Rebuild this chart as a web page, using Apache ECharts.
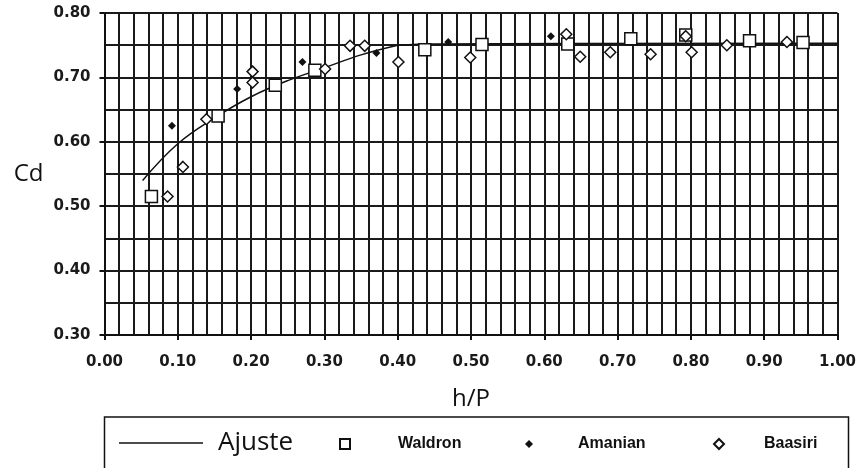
<!DOCTYPE html>
<html>
<head>
<meta charset="utf-8">
<script src="https://cdn.jsdelivr.net/npm/echarts@6.0.0/dist/echarts.min.js"></script>
<style>
  html, body { margin: 0; padding: 0; background: #fff; }
  #chart { width: 860px; height: 468px; }
</style>
</head>
<body>
<div id="chart"></div>
<script>
// h/P vs Cd
const ajusteCurve = [
  [0.052, 0.540], [0.10, 0.597], [0.15, 0.637], [0.20, 0.670],
  [0.25, 0.695], [0.30, 0.715], [0.35, 0.735], [0.40, 0.750]
]
const ajusteFlat = [[0.40, 0.750], [0.45, 0.752], [1.00, 0.753]]
const waldron = [
  [0.064, 0.515], [0.155, 0.640], [0.233, 0.688], [0.287, 0.711], [0.437, 0.743],
  [0.515, 0.751], [0.632, 0.752], [0.718, 0.760], [0.793, 0.766], [0.880, 0.757], [0.953, 0.754]
]
const amanian = [
  [0.092, 0.625], [0.181, 0.682], [0.270, 0.724], [0.371, 0.738], [0.469, 0.755], [0.609, 0.764]
]
const baasiri = [
  [0.086, 0.515], [0.107, 0.561], [0.139, 0.635], [0.202, 0.709], [0.202, 0.692],
  [0.301, 0.713], [0.335, 0.749], [0.355, 0.749], [0.401, 0.724], [0.499, 0.731],
  [0.630, 0.767], [0.649, 0.732], [0.690, 0.739], [0.745, 0.736], [0.793, 0.764],
  [0.801, 0.739], [0.849, 0.750], [0.931, 0.755]
]
const xTicks = [0.0, 0.1, 0.2, 0.3, 0.4, 0.5, 0.6, 0.7, 0.8, 0.9, 1.0]
const yTicks = [0.30, 0.40, 0.50, 0.60, 0.70, 0.80]

const gridLine = { color: '#1a1a1a', width: 2 }
const tickFont = { color: '#1a1a1a', fontFamily: 'DejaVu Sans', fontWeight: 'bold', fontSize: 15 }
const titleFont = { color: '#111', fontFamily: 'Open Sans', fontSize: 24 }
const legendFont = { color: '#111', fontFamily: 'Liberation Sans', fontWeight: 'bold', fontSize: 16 }

const chart = echarts.init(document.getElementById('chart'), null, { renderer: 'canvas' })

const legendAt = (name, left, top, w, h, pad, font, extra) => ({
  data: [name],
  left, top, padding: 0,
  itemWidth: w, itemHeight: h,
  textStyle: { ...font, padding: [0, 0, 0, pad] },
  selectedMode: false,
  ...extra,
})

const xMin = xTicks[0]
const xMax = xTicks[xTicks.length - 1]
// only label the 0.1 steps; the 0.02 steps are just grid
const isMajor = v => Math.abs(v * 10 - Math.round(v * 10)) < 1e-6

chart.setOption({
  animation: false,
  grid: { left: 104.5, right: 22.5, top: 13, bottom: 133 },
  xAxis: [
    {
      type: 'value',
      min: xMin, max: xMax, interval: 0.02,
      name: 'h/P', nameLocation: 'middle', nameGap: 52,
      nameTextStyle: titleFont,
      axisLine: { show: true, onZero: false, lineStyle: { color: '#111', width: 2 } },
      axisTick: { show: false },
      axisLabel: { ...tickFont, margin: 20, formatter: v => isMajor(v) ? v.toFixed(2) : '' },
      splitLine: { show: true, lineStyle: gridLine },
    },
    {
      // ticks at the labelled 0.1 steps
      type: 'value', position: 'bottom',
      min: xMin, max: xMax, interval: 0.1,
      axisLine: { show: false },
      axisTick: { show: true, length: 5, lineStyle: { color: '#111', width: 2 } },
      axisLabel: { show: false },
      splitLine: { show: false },
    },
  ],
  yAxis: {
    type: 'value',
    min: yTicks[0], max: yTicks[yTicks.length - 1], interval: 0.1,
    name: 'Cd', nameLocation: 'middle', nameRotate: 0, nameGap: 61,
    nameTextStyle: { ...titleFont, padding: [0, 0, 12, 0] },
    axisLine: { show: true, onZero: false, lineStyle: { color: '#111', width: 2 } },
    axisTick: { show: true, length: 5, lineStyle: { color: '#111', width: 2 } },
    axisLabel: { ...tickFont, margin: 14, formatter: v => v.toFixed(2) },
    splitLine: { show: true, lineStyle: gridLine },
    minorTick: { show: false, splitNumber: 2 },
    minorSplitLine: { show: true, lineStyle: gridLine },
  },
  legend: [
    legendAt('Ajuste', 119, 430, 84, 1.5, 10, { ...titleFont, fontSize: 26 },
      { icon: 'rect', itemStyle: { color: '#111', borderWidth: 0 } }),
    legendAt('Waldron', 339, 436, 10, 10, 43, legendFont),
    legendAt('Amanian', 525, 436, 8, 8, 40, legendFont),
    legendAt('Baasiri', 713, 436, 10, 10, 35, legendFont),
  ],
  graphic: [{
    type: 'rect',
    shape: { x: 104.5, y: 417, width: 744, height: 70 },
    style: { fill: 'none', stroke: '#111', lineWidth: 1.5 },
    silent: true,
  }],
  series: [
    {
      name: 'Ajuste', type: 'line', data: ajusteCurve,
      smooth: 0.4, symbol: 'none',
      lineStyle: { color: '#111', width: 1.5 },
      itemStyle: { color: '#111' },
      z: 3,
    },
    {
      name: 'Ajuste', type: 'line', data: ajusteFlat,
      smooth: 0.4, symbol: 'none',
      lineStyle: { color: '#111', width: 1.5 },
      itemStyle: { color: '#111' },
      z: 3,
    },
    {
      name: 'Waldron', type: 'scatter', data: waldron,
      symbol: 'rect', symbolSize: 12,
      itemStyle: { color: '#fff', borderColor: '#111', borderWidth: 1.5, opacity: 1 },
      z: 4,
    },
    {
      name: 'Amanian', type: 'scatter', data: amanian,
      symbol: 'diamond', symbolSize: 8,
      itemStyle: { color: '#111', opacity: 1 },
      z: 5,
    },
    {
      name: 'Baasiri', type: 'scatter', data: baasiri,
      symbol: 'diamond', symbolSize: 11,
      itemStyle: { color: '#fff', borderColor: '#111', borderWidth: 1.5, opacity: 1 },
      z: 5,
    },
  ],
})
</script>
</body>
</html>
